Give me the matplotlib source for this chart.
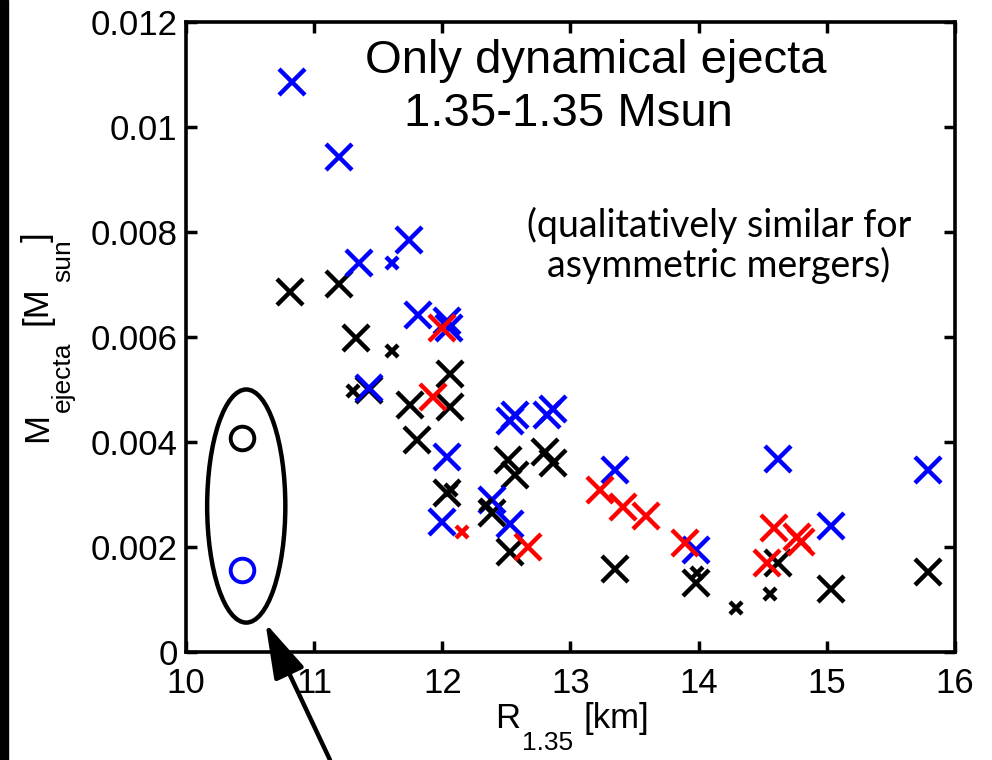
import matplotlib
matplotlib.use("Agg")
import matplotlib.pyplot as plt
from matplotlib.patches import Ellipse, Rectangle

plt.rcParams['font.family'] = ['Liberation Sans', 'DejaVu Sans']

# big crosses
blue_x = [10.83, 11.19, 11.35, 11.74, 11.81, 12.04, 12.05, 11.43, 12.04, 12.00,
          12.39, 12.53, 12.57, 12.82, 12.86, 12.53, 13.35, 13.98, 14.62, 15.03, 15.79]
blue_y = [0.01086, 0.00943, 0.00741, 0.00785, 0.00642, 0.00630, 0.00618, 0.00502, 0.00371, 0.00248,
          0.00290, 0.00440, 0.00452, 0.00452, 0.00462, 0.00244, 0.00347, 0.00194, 0.00368, 0.00240, 0.00347]

black_x = [10.81, 11.19, 11.33, 11.43, 11.75, 11.80, 12.06, 12.06, 12.04, 12.51,
           12.57, 12.80, 12.86, 12.39, 12.53, 13.35, 13.98, 14.62, 15.03, 15.79]
black_y = [0.00686, 0.00701, 0.00598, 0.00499, 0.00470, 0.00404, 0.00530, 0.00467, 0.00303, 0.00366,
           0.00337, 0.00381, 0.00360, 0.00265, 0.00190, 0.00158, 0.00131, 0.00169, 0.00120, 0.00152]

red_x = [12.00, 11.93, 12.67, 13.23, 13.41, 13.59, 13.89, 14.59, 14.77, 14.80, 14.53]
red_y = [0.00617, 0.00486, 0.00200, 0.00309, 0.00276, 0.00259, 0.00208, 0.00236, 0.00219, 0.00210, 0.00170]

# small crosses
blue_small_x = [11.61]
blue_small_y = [0.00741]
black_small_x = [11.30, 11.61, 12.07, 12.34, 13.99, 14.29, 14.56]
black_small_y = [0.00497, 0.00573, 0.00308, 0.00280, 0.00150, 0.00084, 0.00110]
red_small_x = [12.15]
red_small_y = [0.00229]

# circles
circle_x = [10.44, 10.44]
circle_y = [0.00408, 0.00156]
circle_c = ['black', 'blue']

W, H = 992, 760


def px(x, y):
    # pixel position (from top-left) -> figure fraction
    return x / W, 1 - y / H


fig = plt.figure(figsize=(9.92, 7.6), dpi=100)
ax = fig.add_axes([0.1875, 0.1421, 0.7752, 0.829])

fig.patches.append(Rectangle((0, 0), 8 / W, 1, transform=fig.transFigure,
                             color='black', zorder=0))

big = dict(marker='x', ms=19, mew=3.2, ls='none')
small = dict(marker='x', ms=9, mew=3.2, ls='none')
ax.plot(black_x, black_y, color='black', **big)
ax.plot(blue_x, blue_y, color='blue', **big)
ax.plot(red_x, red_y, color='red', **big)
ax.plot(black_small_x, black_small_y, color='black', **small)
ax.plot(blue_small_x, blue_small_y, color='blue', **small)
ax.plot(red_small_x, red_small_y, color='red', **small)
for cx, cy, cc in zip(circle_x, circle_y, circle_c):
    ax.plot(cx, cy, marker='o', ms=17, mfc='none', mec=cc, mew=2.8, ls='none')

ax.add_patch(Ellipse((10.47, 0.00278), 0.61, 0.00444, fill=False, lw=3.2,
                     ec='black', clip_on=False))
ax.annotate('', xy=(10.62, 0.00055), xycoords='data',
            xytext=(330 / W, 0.0), textcoords='figure fraction',
            arrowprops=dict(arrowstyle='-|>,head_length=1.7,head_width=0.5',
                            mutation_scale=20, lw=3.2, color='black',
                            shrinkA=0, shrinkB=0),
            annotation_clip=False)

ax.set_xlim(10, 16)
ax.set_ylim(0, 0.012)
ax.set_xticks([10, 11, 12, 13, 14, 15, 16])
ax.set_yticks([0, 0.002, 0.004, 0.006, 0.008, 0.01, 0.012])
ax.set_yticklabels(['0', '0.002', '0.004', '0.006', '0.008', '0.01', '0.012'])
ax.tick_params(direction='in', length=8, width=2.5, labelsize=25, top=True, right=True)
ax.tick_params(axis='x', pad=11)
ax.tick_params(axis='y', pad=6)
for s in ax.spines.values():
    s.set_linewidth(2.6)

# x label, pieces placed by hand so the subscript matches the reference
fig.text(*px(495, 728), 'R', fontsize=25, va='baseline', ha='left')
fig.text(*px(522, 750), '1.35', fontsize=19, va='baseline', ha='left')
fig.text(*px(583, 728), '[km]', fontsize=25, va='baseline', ha='left')

# y label, rotated pieces
rot = dict(rotation=90, rotation_mode='anchor', ha='left', va='baseline')
fig.text(*px(47, 442), 'M', fontsize=25, **rot)
fig.text(*px(70, 412), 'ejecta', fontsize=19, **rot)
fig.text(*px(47, 325), '[M', fontsize=25, **rot)
fig.text(*px(70, 282), 'sun', fontsize=19, **rot)
fig.text(*px(47, 242), ']', fontsize=25, **rot)

ax.text(0.533, 0.919, 'Only dynamical ejecta', transform=ax.transAxes,
        ha='center', va='baseline', fontsize=34)
ax.text(0.497, 0.835, '1.35-1.35 Msun', transform=ax.transAxes,
        ha='center', va='baseline', fontsize=34)
ax.text(0.693, 0.645, '(qualitatively similar for\nasymmetric mergers)',
        transform=ax.transAxes, ha='center', va='center', fontsize=27,
        family=['Lato', 'DejaVu Sans'], linespacing=1.1)

fig.savefig('out.png', dpi=100)
